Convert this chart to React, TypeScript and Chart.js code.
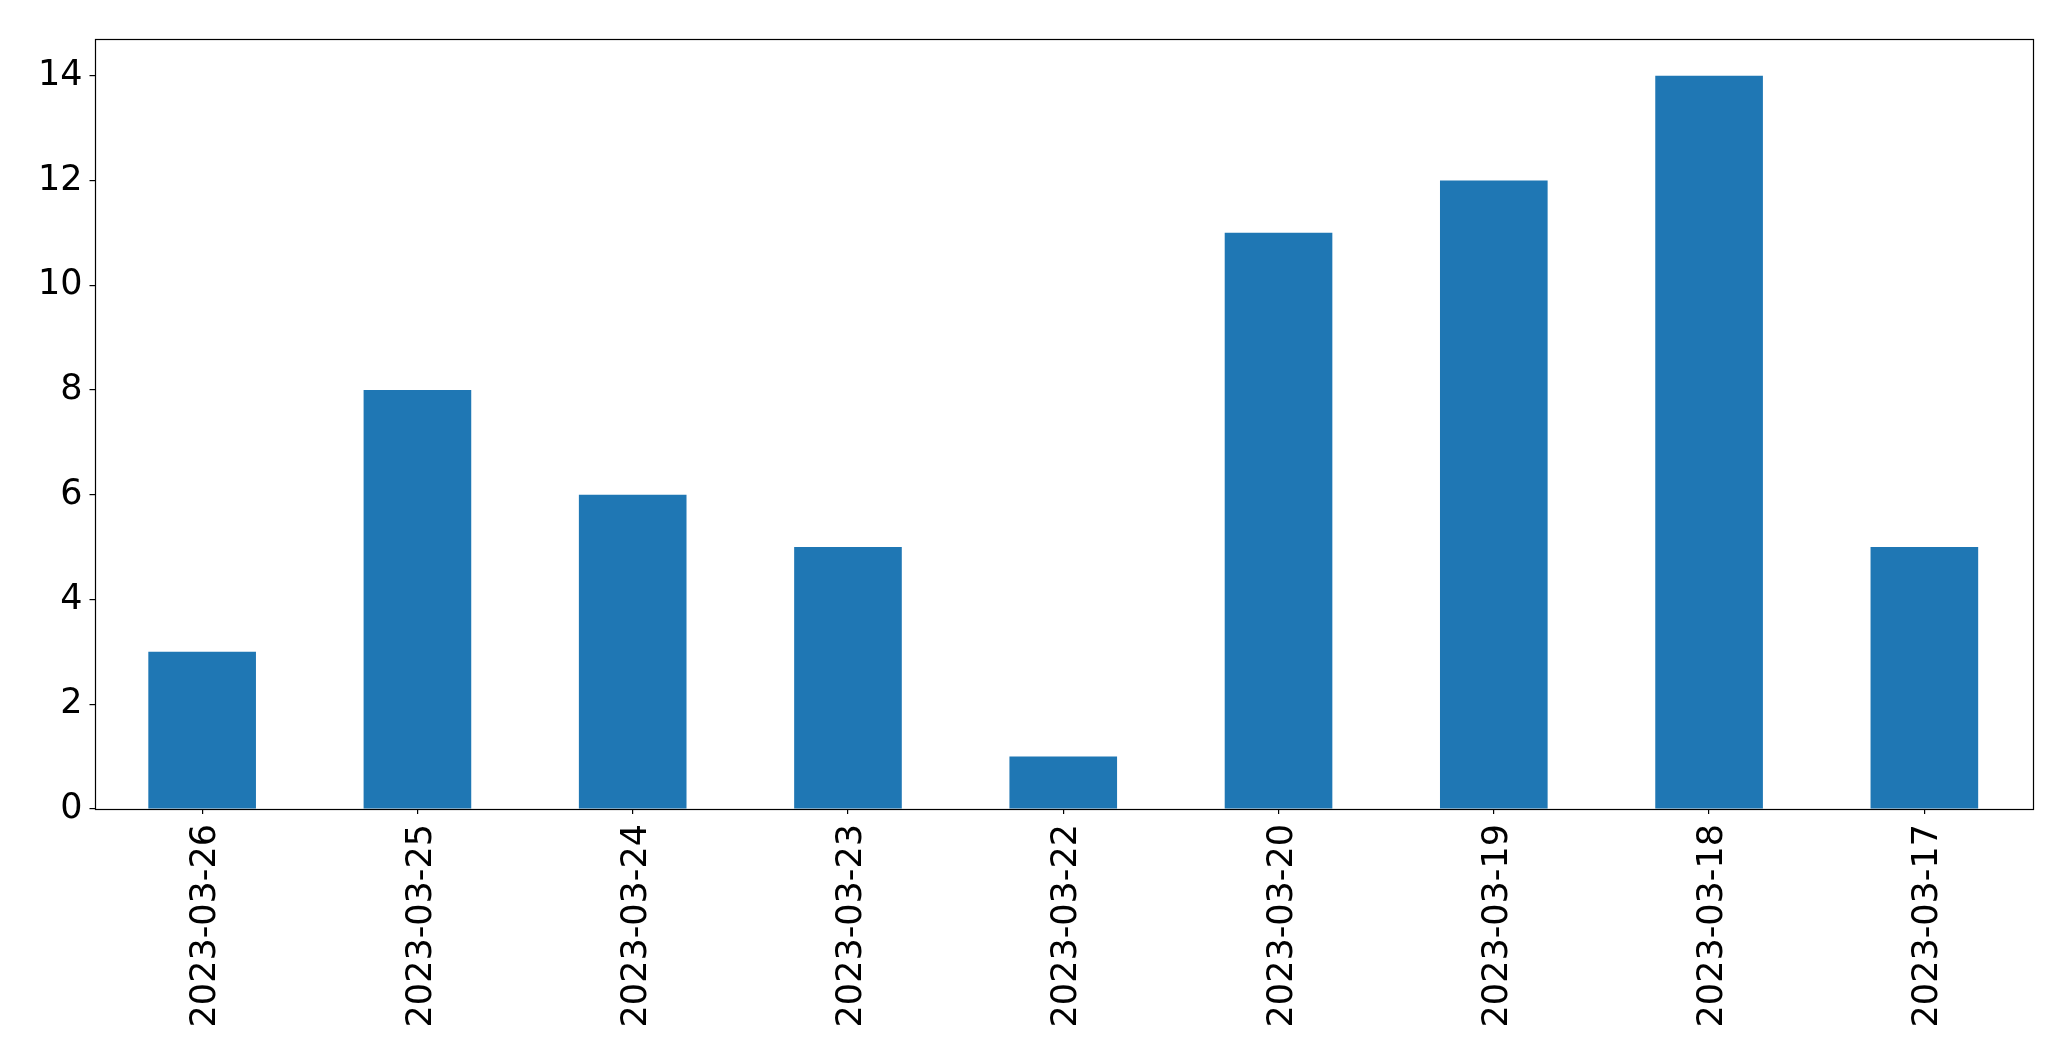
import React, { useEffect, useRef } from "react";
import { Chart, registerables } from "chart.js";

Chart.register(...registerables);

const CATEGORIES = [
  "2023-03-26",
  "2023-03-25",
  "2023-03-24",
  "2023-03-23",
  "2023-03-22",
  "2023-03-20",
  "2023-03-19",
  "2023-03-18",
  "2023-03-17",
];
const VALUES = [3, 8, 6, 5, 1, 11, 12, 14, 5];
const Y_TICKS = [0, 2, 4, 6, 8, 10, 12, 14];
const Y_MAX = 14.7;

const W = 2071;
const H = 1061;
const FONT = { family: "'DejaVu Sans', sans-serif", size: 35 };

const frame = {
  id: "frame",
  afterDraw(chart: any) {
    const { ctx, chartArea: a } = chart;
    ctx.save();
    ctx.strokeStyle = "#000";
    ctx.lineWidth = 1.2;
    ctx.strokeRect(Math.round(a.left) + 0.5, Math.round(a.top) + 0.5, Math.round(a.right - a.left), Math.round(a.bottom - a.top));
    ctx.restore();
  },
};

export default function App() {
  const ref = useRef<HTMLCanvasElement | null>(null);
  useEffect(() => {
    if (!ref.current) return;
    const chart = new Chart(ref.current, {
      type: "bar",
      data: {
        labels: CATEGORIES,
        datasets: [
          {
            data: VALUES,
            backgroundColor: "#1f77b4",
            borderWidth: 0,
            categoryPercentage: 1,
            barPercentage: 0.5,
          },
        ],
      },
      options: {
        responsive: false,
        animation: false,
        devicePixelRatio: 1,
        layout: { padding: { top: 39, right: 39, left: 0, bottom: 0 } },
        plugins: { legend: { display: false }, tooltip: { enabled: false } },
        scales: {
          x: {
            offset: true,
            grid: {
              offset: false,
              drawOnChartArea: false,
              drawTicks: true,
              tickLength: 5,
              color: "#000",
              lineWidth: 1.2,
            },
            border: { display: false },
            ticks: {
              color: "#000",
              font: FONT,
              minRotation: 90,
              maxRotation: 90,
              autoSkip: false,
              padding: 10,
              labelOffset: 4,
            },
            afterFit(scale: any) {
              scale.height = 252;
            },
          },
          y: {
            min: 0,
            max: Y_MAX,
            grid: {
              drawOnChartArea: false,
              drawTicks: true,
              tickLength: 5,
              color: "#000",
              lineWidth: 1.2,
            },
            border: { display: false },
            ticks: { color: "#000", font: FONT, padding: 7 },
            afterBuildTicks(scale: any) {
              scale.ticks = Y_TICKS.map((v) => ({ value: v }));
            },
            afterFit(scale: any) {
              scale.width = 94.5;
            },
          },
        },
      },
      plugins: [frame],
    });
    return () => chart.destroy();
  }, []);
  return (
    <div style={{ position: "fixed", left: 0, top: 0, width: W, height: H, background: "#fff" }}>
      <canvas ref={ref} width={W} height={H} style={{ width: W, height: H, display: "block" }} />
    </div>
  );
}
